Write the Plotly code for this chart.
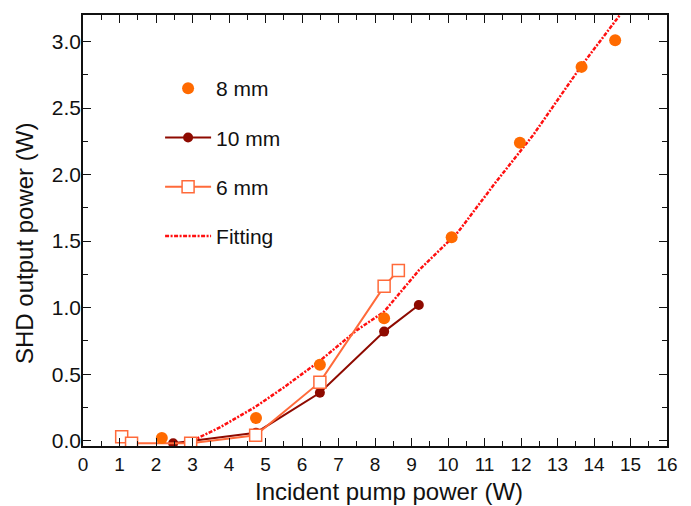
import plotly.graph_objects as go

# 8 mm
x8 = [2.16, 4.74, 6.49, 8.25, 10.1, 11.97, 13.66, 14.58]
y8 = [0.02, 0.17, 0.57, 0.92, 1.53, 2.24, 2.81, 3.01]
# 10 mm
x10 = [2.47, 4.74, 6.49, 8.25, 9.2]
y10 = [-0.02, 0.06, 0.36, 0.82, 1.02]
# 6 mm
x6 = [1.06, 1.33, 2.95, 4.73, 6.49, 8.25, 8.64]
y6 = [0.03, -0.02, -0.02, 0.04, 0.44, 1.16, 1.28]
# Fitting
xf = [3.0, 3.75, 4.7, 5.5, 6.49, 7.5, 8.25, 9.2, 10.28, 11.3, 12.34, 13.66, 14.71, 15.0]
yf = [0.0, 0.10, 0.25, 0.40, 0.60, 0.83, 0.97, 1.28, 1.57, 1.94, 2.30, 2.82, 3.20, 3.35]

xticks = list(range(0, 17))
yticks = [0.0, 0.5, 1.0, 1.5, 2.0, 2.5, 3.0]
ytick_labels = ["0.0", "0.5", "1.0", "1.5", "2.0", "2.5", "3.0"]
x_title = "Incident pump power (W)"
y_title = "SHD output power (W)"

C8 = "#FF6A00"
C10 = "#8E0A00"
C6 = "#FF6A3A"
CF = "#FF1010"
FONT = "Liberation Sans, Arial"
INK = "#111"

fig = go.Figure()
fig.add_trace(go.Scatter(x=xf, y=yf, mode="lines", name="Fitting",
                         line=dict(color=CF, width=2.5, dash="4px,1.5px,2px,1.5px"),
                         legendgroup="d", legendrank=4))
fig.add_trace(go.Scatter(x=x10, y=y10, mode="lines+markers", name="10 mm",
                         line=dict(color=C10, width=2),
                         marker=dict(color=C10, size=10, symbol="circle"),
                         legendgroup="b", legendrank=2))
fig.add_trace(go.Scatter(x=x6, y=y6, mode="lines+markers", name="6 mm",
                         line=dict(color=C6, width=2),
                         marker=dict(color="white", size=12, symbol="square",
                                     line=dict(color=C6, width=1.5)),
                         legendgroup="c", legendrank=3))
fig.add_trace(go.Scatter(x=x8, y=y8, mode="markers", name="8 mm",
                         marker=dict(color=C8, size=12, symbol="circle"),
                         legendgroup="a", legendrank=1))

axis_common = dict(
    showline=True, linecolor=INK, linewidth=1.5, mirror="allticks",
    ticks="inside", ticklen=8, tickwidth=1.2, tickcolor=INK,
    showgrid=False, zeroline=False,
)

fig.update_xaxes(range=[0, 16], tickvals=xticks, ticktext=[str(t) for t in xticks],
                 tickfont=dict(family=FONT, size=19, color=INK),
                 minor=dict(tick0=0, dtick=0.5, ticks="inside", ticklen=5, tickwidth=1.2, tickcolor=INK),
                 **axis_common)
fig.update_yaxes(range=[-0.04, 3.2], tickvals=yticks, ticktext=ytick_labels,
                 tickfont=dict(family=FONT, size=21, color=INK), ticklabelstandoff=-4,
                 minor=dict(tick0=0, dtick=0.25, ticks="inside", ticklen=5, tickwidth=1.2, tickcolor=INK),
                 **axis_common)

# axis titles as annotations (placed like the reference, slightly off-centre)
fig.add_annotation(text=x_title, xref="paper", yref="paper", x=(381 - 75) / 584.5, y=-(484 - 438) / 433,
                   xanchor="center", yanchor="middle", showarrow=False,
                   font=dict(family=FONT, size=24, color=INK))
fig.add_annotation(text=y_title, xref="paper", yref="paper", x=-(75 - 17) / 584.5, y=(438 - 235) / 433,
                   xanchor="center", yanchor="middle", showarrow=False, textangle=-90,
                   font=dict(family=FONT, size=24, color=INK))

# page body has an 8px default margin, so the figure is sized to fit inside the window
fig.update_layout(
    width=683, height=498,
    margin=dict(l=75, r=24, t=5, b=60),
    plot_bgcolor="white", paper_bgcolor="white",
    legend=dict(x=0.132, y=0.877, xanchor="left", yanchor="top",
                bgcolor="rgba(0,0,0,0)", tracegroupgap=19, itemwidth=46,
                font=dict(family=FONT, size=21, color=INK)),
)

fig.write_html("out.html")
